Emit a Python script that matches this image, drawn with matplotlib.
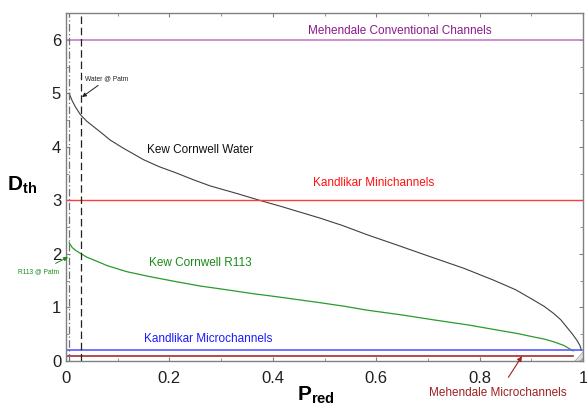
import matplotlib
matplotlib.use("Agg")
import matplotlib.pyplot as plt
from matplotlib.patches import Polygon
from matplotlib.ticker import MultipleLocator

plt.rcParams['font.family'] = ['Liberation Sans', 'DejaVu Sans']
plt.rcParams['mathtext.fontset'] = 'custom'
plt.rcParams['mathtext.rm'] = 'Liberation Sans'
plt.rcParams['mathtext.bf'] = 'Liberation Sans:bold'

# Kew & Cornwell threshold diameter
p_water = [0.006, 0.012, 0.018, 0.028, 0.04, 0.053, 0.07, 0.085, 0.11,
           0.15, 0.18, 0.214, 0.245, 0.279, 0.33, 0.375, 0.415, 0.453,
           0.491, 0.535, 0.582, 0.645, 0.71, 0.77, 0.827, 0.87, 0.904,
           0.925, 0.943, 0.957, 0.968, 0.979, 0.988, 0.994, 0.997]
d_water = [5.0, 4.86, 4.75, 4.6, 4.48, 4.38, 4.25, 4.13, 3.98,
           3.76, 3.63, 3.51, 3.39, 3.27, 3.13, 3.0, 2.89, 2.78,
           2.67, 2.53, 2.36, 2.15, 1.93, 1.73, 1.51, 1.33, 1.14,
           1.02, 0.89, 0.77, 0.64, 0.51, 0.39, 0.29, 0.2]

p_r113 = [0.006, 0.012, 0.018, 0.028, 0.04, 0.053, 0.08, 0.117, 0.16,
          0.214, 0.26, 0.311, 0.36, 0.408, 0.453, 0.491, 0.54, 0.582,
          0.65, 0.71, 0.78, 0.839, 0.875, 0.904, 0.925, 0.943, 0.963, 0.981]
d_r113 = [2.21, 2.12, 2.07, 2.01, 1.94, 1.89, 1.78, 1.67, 1.58,
          1.48, 1.4, 1.33, 1.26, 1.2, 1.14, 1.09, 1.02, 0.95,
          0.86, 0.77, 0.67, 0.57, 0.51, 0.45, 0.41, 0.36, 0.29, 0.19]

# classification limits
limit_names = ['Mehendale Conventional Channels', 'Kandlikar Minichannels',
               'Kandlikar Microchannels', 'Mehendale Microchannels']
limit_values = [6.0, 3.0, 0.2, 0.1]

# reduced pressure at atmospheric pressure
p_atm_a = 0.005
p_atm_b = 0.029

x_ticks = [0, 0.2, 0.4, 0.6, 0.8, 1.0]
x_labels = ['0', '0.2', '0.4', '0.6', '0.8', '1']

fig = plt.figure(figsize=(5.87, 4.07), dpi=100)
ax = fig.add_axes([66 / 587, 1 - 361 / 407, 517 / 587, 348 / 407])

ax.plot(p_water, d_water, color='#404040', lw=0.8)
ax.plot(p_r113, d_r113, color='#2a9a2a', lw=0.9)

ax.plot([0, 1], [limit_values[0]] * 2, color='#c47ec4', lw=1.2)
ax.plot([0, 1], [limit_values[1]] * 2, color='#ff3b3b', lw=1.0)
ax.plot([0, 0.998], [limit_values[2]] * 2, color='#5a5aff', lw=1.2)
ax.plot([0, 0.98], [limit_values[3]] * 2, color='#a03030', lw=1.2)

ax.axvline(p_atm_a, color='#707070', lw=0.9, ls=(0, (6, 2, 1, 2)))
ax.axvline(p_atm_b, color='#202020', lw=0.9, ls=(0, (6, 3)))

ax.set_xlim(0, 1)
ax.set_ylim(0, 6.5)
ax.set_xticks(x_ticks)
ax.set_xticklabels(x_labels)
ax.xaxis.set_minor_locator(MultipleLocator(0.1))
ax.yaxis.set_major_locator(MultipleLocator(1))
ax.yaxis.set_minor_locator(MultipleLocator(0.5))
ax.tick_params(which='both', direction='in', top=True, right=True,
               color='#808080', labelsize=12, labelcolor='#202020')
ax.tick_params(which='major', length=3)
ax.tick_params(which='minor', length=2)
ax.tick_params(axis='x', pad=7)
for s in ax.spines.values():
    s.set_color('#808080')
    s.set_linewidth(1.0)

# resize grip in the corner
ax.add_patch(Polygon([(0.982, 0), (1, 0), (1, 0.03)], closed=True,
                     transform=ax.transAxes, facecolor='#e0e0e0',
                     edgecolor='#a0a0a0', hatch='////', lw=0.5,
                     clip_on=False))

ax.text(0.645, 6.17, limit_names[0], color='#8b1a8b', fontsize=8.5,
        ha='center', va='center')
ax.text(0.595, 3.33, limit_names[1], color='#ff1010', fontsize=8.5,
        ha='center', va='center')
ax.text(0.275, 0.42, limit_names[2], color='#1a1aff', fontsize=8.5,
        ha='center', va='center')
ax.text(0.26, 3.95, 'Kew Cornwell Water', color='#101010', fontsize=8.5,
        ha='center', va='center')
ax.text(0.26, 1.83, 'Kew Cornwell R113', color='#1a8a1a', fontsize=8.5,
        ha='center', va='center')

ax.annotate(limit_names[3], xy=(0.882, 0.09), xytext=(0.836, -0.6),
            color='#a02020', fontsize=8.5, ha='center', va='center',
            annotation_clip=False,
            arrowprops=dict(arrowstyle='-|>', color='#a02020', lw=0.8,
                            mutation_scale=7, shrinkA=6, shrinkB=0))
ax.annotate('Water @ Patm', xy=(0.031, 4.93), xytext=(0.037, 5.2),
            color='#202020', fontsize=4.8, ha='left', va='bottom',
            arrowprops=dict(arrowstyle='-|>', color='#202020', lw=0.7,
                            mutation_scale=6, shrinkA=0, shrinkB=0))
ax.annotate('R113 @ Patm', xy=(0.004, 1.94), xytext=(-0.054, 1.66),
            color='#1a8a1a', fontsize=4.8, ha='center', va='center',
            annotation_clip=False,
            arrowprops=dict(arrowstyle='-|>', color='#1a8a1a', lw=0.7,
                            mutation_scale=6, shrinkA=4, shrinkB=0))

fig.text(22 / 587, 1 - 185 / 407, r'$\mathbf{D_{th}}$', fontsize=15,
         ha='center', va='center')
fig.text(316 / 587, 1 - 395 / 407, r'$\mathbf{P_{red}}$', fontsize=15,
         ha='center', va='center')

fig.savefig('out.png', dpi=100)
